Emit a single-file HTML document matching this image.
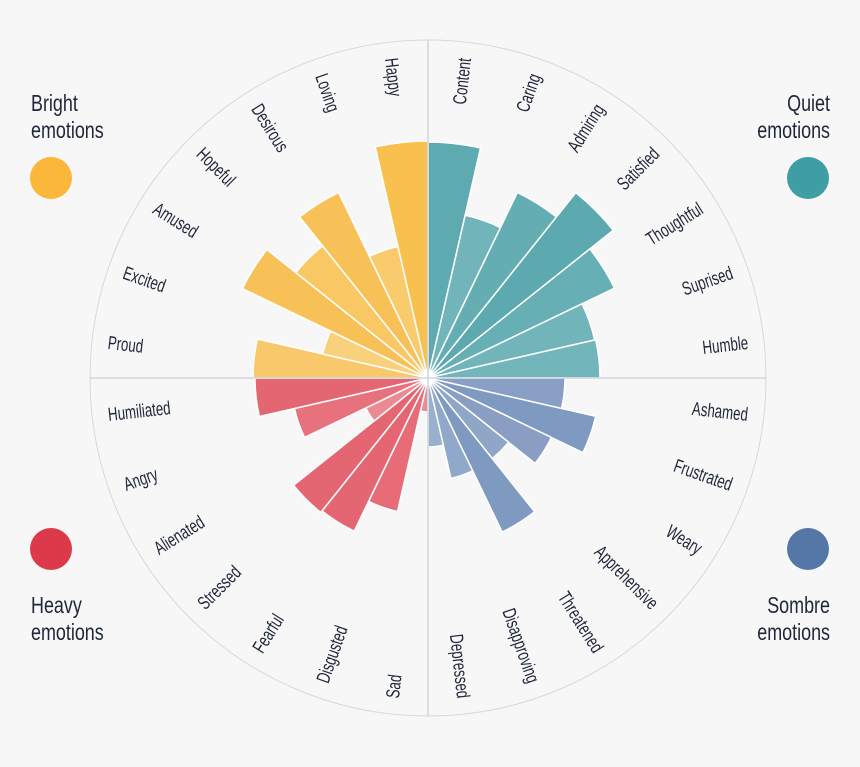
<!DOCTYPE html>
<html><head><meta charset="utf-8"><style>
html,body{margin:0;padding:0;background:#f7f7f7;}
svg{display:block;}
text{font-family:"Liberation Sans",sans-serif;fill:#1f2638;}
</style></head><body>
<svg id="s" width="860" height="767" viewBox="0 0 860 767" xmlns="http://www.w3.org/2000/svg">
<rect width="860" height="767" fill="#f7f7f7"/>
<circle cx="428" cy="378" r="338" fill="none" stroke="#d3dadf" stroke-width="1"/>
<g id="w"></g>
<line x1="90" y1="378" x2="766" y2="378" stroke="#cfd6dd" stroke-width="1.5"/>
<line x1="428" y1="40" x2="428" y2="716" stroke="#cfd6dd" stroke-width="1.5"/>
<g id="l"></g>
<g font-size="23">
<text transform="translate(31,111) scale(0.78,1)">Bright</text>
<text transform="translate(31,138) scale(0.78,1)">emotions</text>
<text transform="translate(830,111) scale(0.78,1)" text-anchor="end">Quiet</text>
<text transform="translate(830,138) scale(0.78,1)" text-anchor="end">emotions</text>
<text transform="translate(31,613) scale(0.78,1)">Heavy</text>
<text transform="translate(31,640) scale(0.78,1)">emotions</text>
<text transform="translate(830,613) scale(0.78,1)" text-anchor="end">Sombre</text>
<text transform="translate(830,640) scale(0.78,1)" text-anchor="end">emotions</text>
</g>
<circle cx="51" cy="178" r="21" fill="#fbb73a"/>
<circle cx="808" cy="178" r="21" fill="#3e9ea4"/>
<circle cx="51" cy="549" r="21" fill="#dc3a4a"/>
<circle cx="808" cy="549" r="21" fill="#5577a8"/>
</svg>
<script>
var cx=428,cy=378;
var names=["Content","Caring","Admiring","Satisfied","Thoughtful","Suprised","Humble","Ashamed","Frustrated","Weary","Apprehensive","Threatened","Disapproving","Depressed","Sad","Disgusted","Fearful","Stressed","Alienated","Angry","Humiliated","Proud","Excited","Amused","Hopeful","Desirous","Loving","Happy"];
var r=[236,167,206,237,207,171,172,137,172,137,103,171,103,69,34,137,170,172,69,137,173,175,108,206,169,206,135,237];
var c=["#5daab0","#71b4ba","#64aeb3","#5ca9af","#66afb5","#71b5ba","#72b6bb","#8a9fc5","#7f9ac1","#8a9ec4","#90a6c7","#7f9ac1","#90a8c9","#9ab0cf","#ec8c95","#e86b78","#e56673","#e56673","#eb8a93","#e8717e","#e56673","#f9c86a","#f9d07b","#f8c158","#f9c865","#f8c158","#f9cb6c","#f8c04e"];
var ns="http://www.w3.org/2000/svg",W=document.getElementById("w"),L=document.getElementById("l");
var st=90/7;
function pt(a,rr){var t=a*Math.PI/180;return [cx+rr*Math.sin(t),cy-rr*Math.cos(t)];}
for(var i=0;i<28;i++){
 var a0=i*st,a1=(i+1)*st,p0=pt(a0,r[i]),p1=pt(a1,r[i]);
 var p=document.createElementNS(ns,"path");
 p.setAttribute("d","M"+cx+","+cy+"L"+p0[0].toFixed(2)+","+p0[1].toFixed(2)+"A"+r[i]+","+r[i]+" 0 0 1 "+p1[0].toFixed(2)+","+p1[1].toFixed(2)+"Z");
 p.setAttribute("fill",c[i]);p.setAttribute("stroke","#fff");p.setAttribute("stroke-width","1.5");p.setAttribute("stroke-linejoin","round");
 W.appendChild(p);
 var am=(i+0.5)*st,q=pt(am,322),t=document.createElementNS(ns,"text");
 var rot,anc;
 if(am<180){rot=am-90;anc="end";}else{rot=am-270;anc="start";}
 t.setAttribute("transform","translate("+q[0].toFixed(2)+","+q[1].toFixed(2)+") rotate("+rot.toFixed(2)+") scale(0.70,1)");
 t.setAttribute("text-anchor",anc);t.setAttribute("dy","7");t.setAttribute("font-size","19");
 t.textContent=names[i];L.appendChild(t);
}
</script>
</body></html>
